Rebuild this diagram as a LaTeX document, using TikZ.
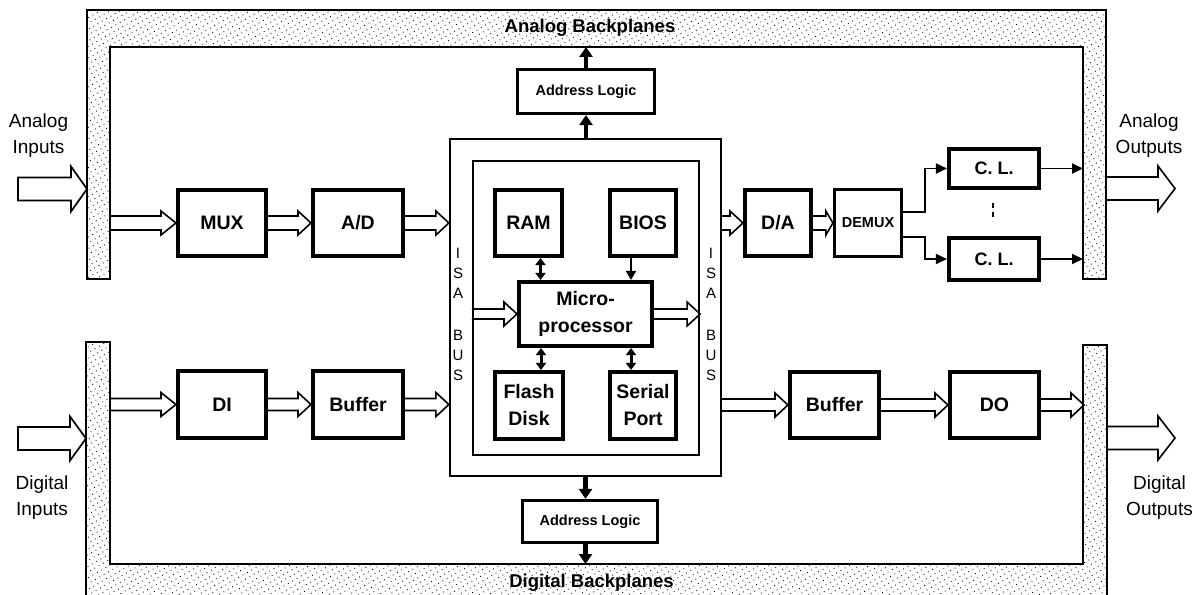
\documentclass[tikz,border=0pt]{standalone}
\usepackage{fontspec}
\setmainfont{Liberation Sans}
\usetikzlibrary{calc,arrows.meta,patterns.meta}
\begin{document}
\begin{tikzpicture}[x=1pt,y=-1pt,
  box/.style={draw, line width=3.6pt, inner sep=0pt, align=center, font=\bfseries\fontsize{19.5}{27}\selectfont},
  smallbox/.style={box, font=\bfseries\fontsize{14.5}{17}\selectfont},
  isaframe/.style={draw, line width=1.7pt, inner sep=0pt},
  bar/.style={draw, line width=1.9pt, line join=miter, pattern={Dots[distance=5pt,radius=0.6pt,angle=30]}, pattern color=black},
  lbl/.style={align=center, font=\fontsize{19}{26}\selectfont},
  isa/.style={align=center, font=\fontsize{15}{20}\selectfont},
  bp/.style={font=\bfseries\fontsize{18.5}{22}\selectfont, anchor=base},
  fat/.style n args={3}{line width=1.6pt, line join=miter, to path={let \p1=(\tikztostart), \p2=(\tikztotarget) in
     (\x1,\y2+#1) -- (\x2-#3,\y2+#1) -- (\x2-#3,\y2+#2) -- (\x2,\y2) -- (\x2-#3,\y2-#2) -- (\x2-#3,\y2-#1) -- (\x1,\y2-#1)}},
  fatc/.style n args={3}{line width=1.7pt, line join=miter, to path={let \p1=(\tikztostart), \p2=(\tikztotarget) in
     (\x1,\y2+#1) -- (\x2-#3,\y2+#1) -- (\x2-#3,\y2+#2) -- (\x2,\y2) -- (\x2-#3,\y2-#2) -- (\x2-#3,\y2-#1) -- (\x1,\y2-#1) -- cycle}},
  thickarr/.style={line width=4.5pt, -{Triangle[width=13pt,length=10pt]}},
  biarr/.style={line width=3pt, {Triangle[width=10pt,length=7pt]}-{Triangle[width=10pt,length=7pt]}},
  monoarr/.style={line width=2pt, -{Triangle[width=10pt,length=9pt]}},
  thinarr/.style={line width=1.8pt, -{Triangle[width=10pt,length=11pt]}},
]
\useasboundingbox (0,0) rectangle (1198,594);
\clip (0,0) rectangle (1198,594);

% backplanes
\draw[bar] (87,10) -- (1106,10) -- (1106,279) -- (1083,279) -- (1083,47) -- (110,47) -- (110,279) -- (87,279) -- cycle;
\draw[bar] (86,342) -- (110,342) -- (110,564) -- (1083,564) -- (1083,345) -- (1107,345) -- (1107,600) -- (86,600) -- cycle;
\node[bp] (abp) at (590,33) {Analog Backplanes};
\node[bp] (dbp) at (591.5,587) {Digital Backplanes};

\coordinate (aLin) at (110,0);
\coordinate (aRin) at (1083,0);
\coordinate (aLo) at (87,0);
\coordinate (aRo) at (1106,0);
\coordinate (dLin) at (110,0);
\coordinate (dRin) at (1084,0);
\coordinate (dLo) at (86,0);
\coordinate (dRo) at (1107,0);
\coordinate (abpB) at (0,47);
\coordinate (dbpT) at (0,564);

% boxes
\node[box, minimum width=88.5pt, minimum height=66.5pt] (mux) at (222,223) {MUX};
\node[box, minimum width=90.5pt, minimum height=66.5pt] (ad) at (358,223) {A/D};
\node[box, minimum width=88.5pt, minimum height=67.5pt] (di) at (222,404.5) {DI};
\node[box, minimum width=90.5pt, minimum height=67.5pt] (bufa) at (358,404.5) {Buffer};
\node[isaframe, minimum width=271.5pt, minimum height=337.5pt] (outer) at (585.5,307.5) {};
\node[isaframe, minimum width=226.5pt, minimum height=294.5pt] (inner) at (586,308) {};
\node[box, minimum width=67.5pt, minimum height=66.5pt] (ram) at (528.5,223) {RAM};
\node[box, minimum width=66.5pt, minimum height=66.5pt] (bios) at (643,223) {BIOS};
\node[box, minimum width=133.5pt, minimum height=64.5pt] (micro) at (585.5,314) {Micro-\\processor};
\node[box, minimum width=68.5pt, minimum height=67.5pt] (flash) at (529,405.5) {Flash\\Disk};
\node[box, minimum width=66.5pt, minimum height=67.5pt] (serial) at (643,405.5) {Serial\\Port};
\node[smallbox, line width=3.2pt, minimum width=137pt, minimum height=44pt] (addrT) at (586,91.5) {Address Logic};
\node[smallbox, line width=3.2pt, minimum width=135pt, minimum height=42pt] (addrB) at (590,521.5) {Address Logic};
\node[box, minimum width=66.5pt, minimum height=66.5pt] (da) at (778,223) {D/A};
\node[smallbox, line width=3.2pt, minimum width=67pt, minimum height=67pt] (demux) at (868,223) {DEMUX};
\node[box, font=\bfseries\fontsize{18}{22}\selectfont, minimum width=90.5pt, minimum height=39.5pt] (clA) at (994,168.5) {C. L.};
\node[box, font=\bfseries\fontsize{18}{22}\selectfont, minimum width=90.5pt, minimum height=41.5pt] (clB) at (994,259) {C. L.};
\node[box, minimum width=89.5pt, minimum height=66.5pt] (bufb) at (834.5,405) {Buffer};
\node[box, minimum width=89.5pt, minimum height=66.5pt] (dout) at (994.5,405) {DO};

% ISA BUS labels
\node[isa] (isaL) at (458,314) {I\\S\\A\\[22pt]B\\U\\S};
\node[isa] (isaR) at (711,314) {I\\S\\A\\[22pt]B\\U\\S};

% outer labels
\node[lbl] (lai) at (38.5,136) {Analog\\Inputs};
\node[lbl] (ldi) at (42,498) {Digital\\Inputs};
\node[lbl] (lao) at (1149,136) {Analog\\Outputs};
\node[lbl] (ldo) at (1159.5,498) {Digital\\Outputs};

% big in/out arrows
\coordinate (ai) at (18,189);
\coordinate (dinp) at (18,438.5);
\coordinate (ao) at (1175,188.5);
\coordinate (doo) at (1175,438);
\draw[fatc={11.5pt}{22.5pt}{16pt}] (ai) to (aLo |- ai);
\draw[fatc={11.5pt}{22pt}{16pt}] (dinp) to (dLo |- dinp);
\draw[fat={11.5pt}{22.5pt}{17pt}] (aRo |- ao) to (ao);
\draw[fat={11.5pt}{22pt}{17pt}] (dRo |- doo) to (doo);

% double-line data arrows
\draw[fat={7pt}{12pt}{15pt}] (aLin |- mux.west) to (mux.west);
\draw[fat={7pt}{12pt}{13pt}] (mux.east) to (ad.west);
\draw[fat={7pt}{12pt}{13pt}] (ad.east) to (outer.west |- ad.east);
\draw[fat={6pt}{12pt}{15pt}] (dLin |- di.west) to (di.west);
\draw[fat={6pt}{12pt}{13pt}] (di.east) to (bufa.west);
\draw[fat={6pt}{12pt}{13pt}] (bufa.east) to (outer.west |- bufa.east);
\draw[fat={5pt}{12pt}{13pt}] (inner.west |- micro.west) to (micro.west);
\draw[fat={5pt}{12pt}{13pt}] (micro.east) to (inner.east |- micro.east);
\draw[fat={7pt}{12pt}{13pt}] (outer.east |- da.west) to (da.west);
\draw[fat={7pt}{12pt}{7pt}] (da.east) to (demux.west);
\draw[fat={6pt}{12pt}{13pt}] (outer.east |- bufb.west) to (bufb.west);
\draw[fat={6pt}{12pt}{13pt}] (bufb.east) to (dout.west);
\draw[fat={6pt}{12pt}{13pt}] (dout.east) to (dRin |- dout.east);

% internal bus arrows
\coordinate (ra) at ([xshift=12pt]ram.south);
\coordinate (ba) at ([xshift=-12pt]bios.south);
\coordinate (fa) at ([xshift=12pt]flash.north);
\coordinate (sa) at ([xshift=-12pt]serial.north);
\draw[biarr] (ra) -- (ra |- micro.north);
\draw[monoarr] (ba) -- (ba |- micro.north);
\draw[biarr] (fa |- micro.south) -- (fa);
\draw[biarr] (sa |- micro.south) -- (sa);

% address logic arrows
\draw[thickarr] (outer.north -| addrT) -- (addrT.south);
\draw[thickarr] (addrT.north) -- (addrT.north |- abpB);
\draw[thickarr] (outer.south) -- (outer.south |- addrB.north);
\draw[thickarr] (outer.south |- addrB.south) -- (outer.south |- dbpT);

% demux to current loops
\draw[thinarr] ([yshift=11pt]demux.east) -- ++(22,0) |- (clA.west);
\draw[thinarr] ([yshift=-14pt]demux.east) -- ++(22,0) |- (clB.west);
\draw[thinarr] (clA.east) -- (aRin |- clA.east);
\draw[thinarr] (clB.east) -- (aRin |- clB.east);
\draw[line width=1.8pt, dash pattern=on 5pt off 4pt] (993,203) -- (993,221);
\end{tikzpicture}
\end{document}
